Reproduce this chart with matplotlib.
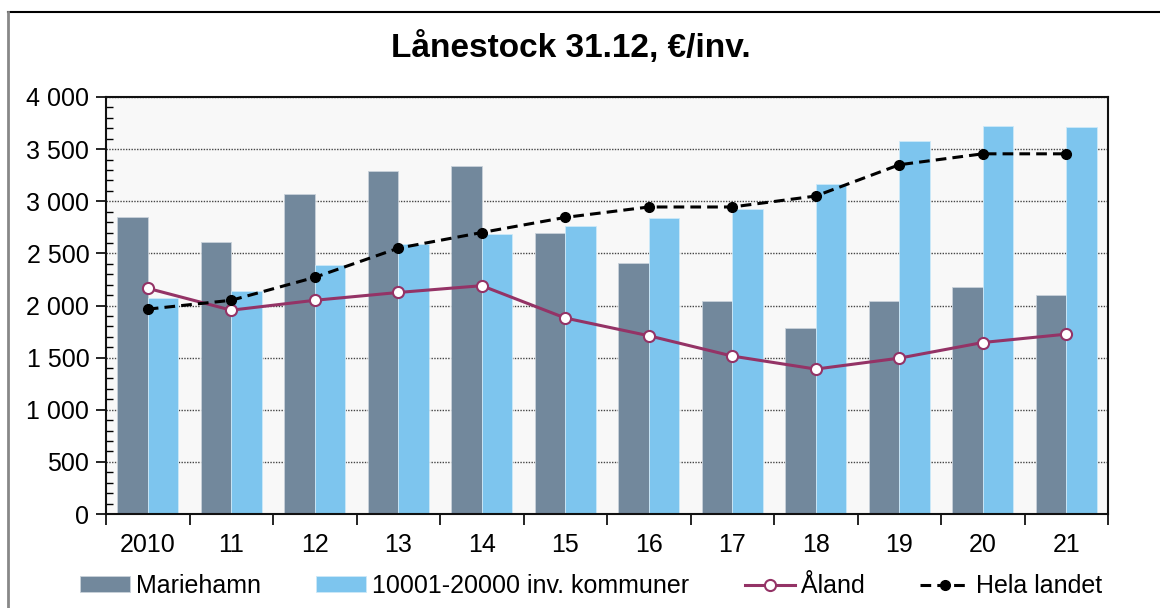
import numpy as np
import matplotlib.pyplot as plt
from matplotlib.ticker import MultipleLocator, FuncFormatter
from matplotlib.lines import Line2D

plt.rcParams['font.family'] = ['Liberation Sans', 'DejaVu Sans']

# data
years = ['2010', '11', '12', '13', '14', '15', '16', '17', '18', '19', '20', '21']
mariehamn = [2850, 2610, 3070, 3290, 3335, 2700, 2410, 2040, 1780, 2040, 2180, 2100]
kommuner = [2070, 2140, 2390, 2590, 2690, 2760, 2840, 2930, 3165, 3580, 3720, 3710]
aland = [2165, 1955, 2050, 2125, 2190, 1880, 1710, 1515, 1390, 1495, 1645, 1725]
hela_landet = [1965, 2050, 2270, 2550, 2700, 2845, 2945, 2945, 3050, 3350, 3455, 3455]

fig = plt.figure(figsize=(11.6, 6.08), dpi=100)
ax = fig.add_axes([106/1160, 1-514/608, (1108-106)/1160, (514-97)/608])
ax.set_facecolor('#f8f8f8')

x = np.arange(len(years))
w = 0.365
b1 = ax.bar(x - w/2, mariehamn, w, color='#72889c', edgecolor='#c9d2da', linewidth=0.6,
            label='Mariehamn', zorder=2)
b2 = ax.bar(x + w/2, kommuner, w, color='#7dc5ee', edgecolor='#cde9f8', linewidth=0.6,
            label='10001-20000 inv. kommuner', zorder=2)
l1, = ax.plot(x, aland, color='#943366', linewidth=2.2, marker='o', markersize=8,
              markerfacecolor='white', markeredgecolor='#943366', markeredgewidth=1.5,
              label='Åland', zorder=4)
l2, = ax.plot(x, hela_landet, color='black', linewidth=2.2, linestyle=(0, (3.5, 2)),
              marker='o', markersize=7, markerfacecolor='black', markeredgecolor='black',
              label='Hela landet', zorder=5)

ax.set_xlim(-0.5, len(years) - 0.5)
ax.set_ylim(0, 4000)

# y axis
ax.yaxis.set_major_locator(MultipleLocator(500))
ax.yaxis.set_minor_locator(MultipleLocator(100))
ax.yaxis.set_major_formatter(FuncFormatter(lambda v, p: '{:,.0f}'.format(v).replace(',', ' ')))
ax.tick_params(axis='y', which='major', direction='out', length=7, width=1.2,
               labelsize=18, pad=5)
ax.tick_params(axis='y', which='minor', direction='in', length=5, width=1)
ax.grid(axis='y', which='major', color='#444444', linestyle=(0, (1, 1)), linewidth=1, zorder=1)
ax.set_axisbelow(True)

# x axis: ticks between categories, labels centred
ax.set_xticks(np.arange(-0.5, len(years), 1.0))
ax.set_xticklabels([])
ax.set_xticks(x, minor=True)
ax.set_xticklabels(years, minor=True)
ax.tick_params(axis='x', which='major', direction='out', length=8, width=1.2)
ax.tick_params(axis='x', which='minor', length=0, labelsize=18, pad=14)

for s in ax.spines.values():
    s.set_linewidth(1.5)
    s.set_color('#111111')

fig.text(571/1160, 1-48/608, 'Lånestock 31.12, €/inv.', ha='center', va='center',
         fontsize=24, fontweight='bold')

fig.legend([b1, b2, l1, l2], ['Mariehamn', '10001-20000 inv. kommuner', 'Åland', 'Hela landet'],
           loc='center', bbox_to_anchor=(591/1160, 1-586/608), ncol=4, frameon=False,
           fontsize=18, handlelength=2.0, handleheight=0.6, handletextpad=0.25,
           columnspacing=2.2)

# outer frame of the picture
fig.add_artist(Line2D([8/1160, 1], [1-12/608, 1-12/608], color='black', linewidth=1.5))
fig.add_artist(Line2D([8/1160, 8/1160], [0, 1-12/608], color='#888888', linewidth=2))

fig.savefig('out.png', dpi=100)
